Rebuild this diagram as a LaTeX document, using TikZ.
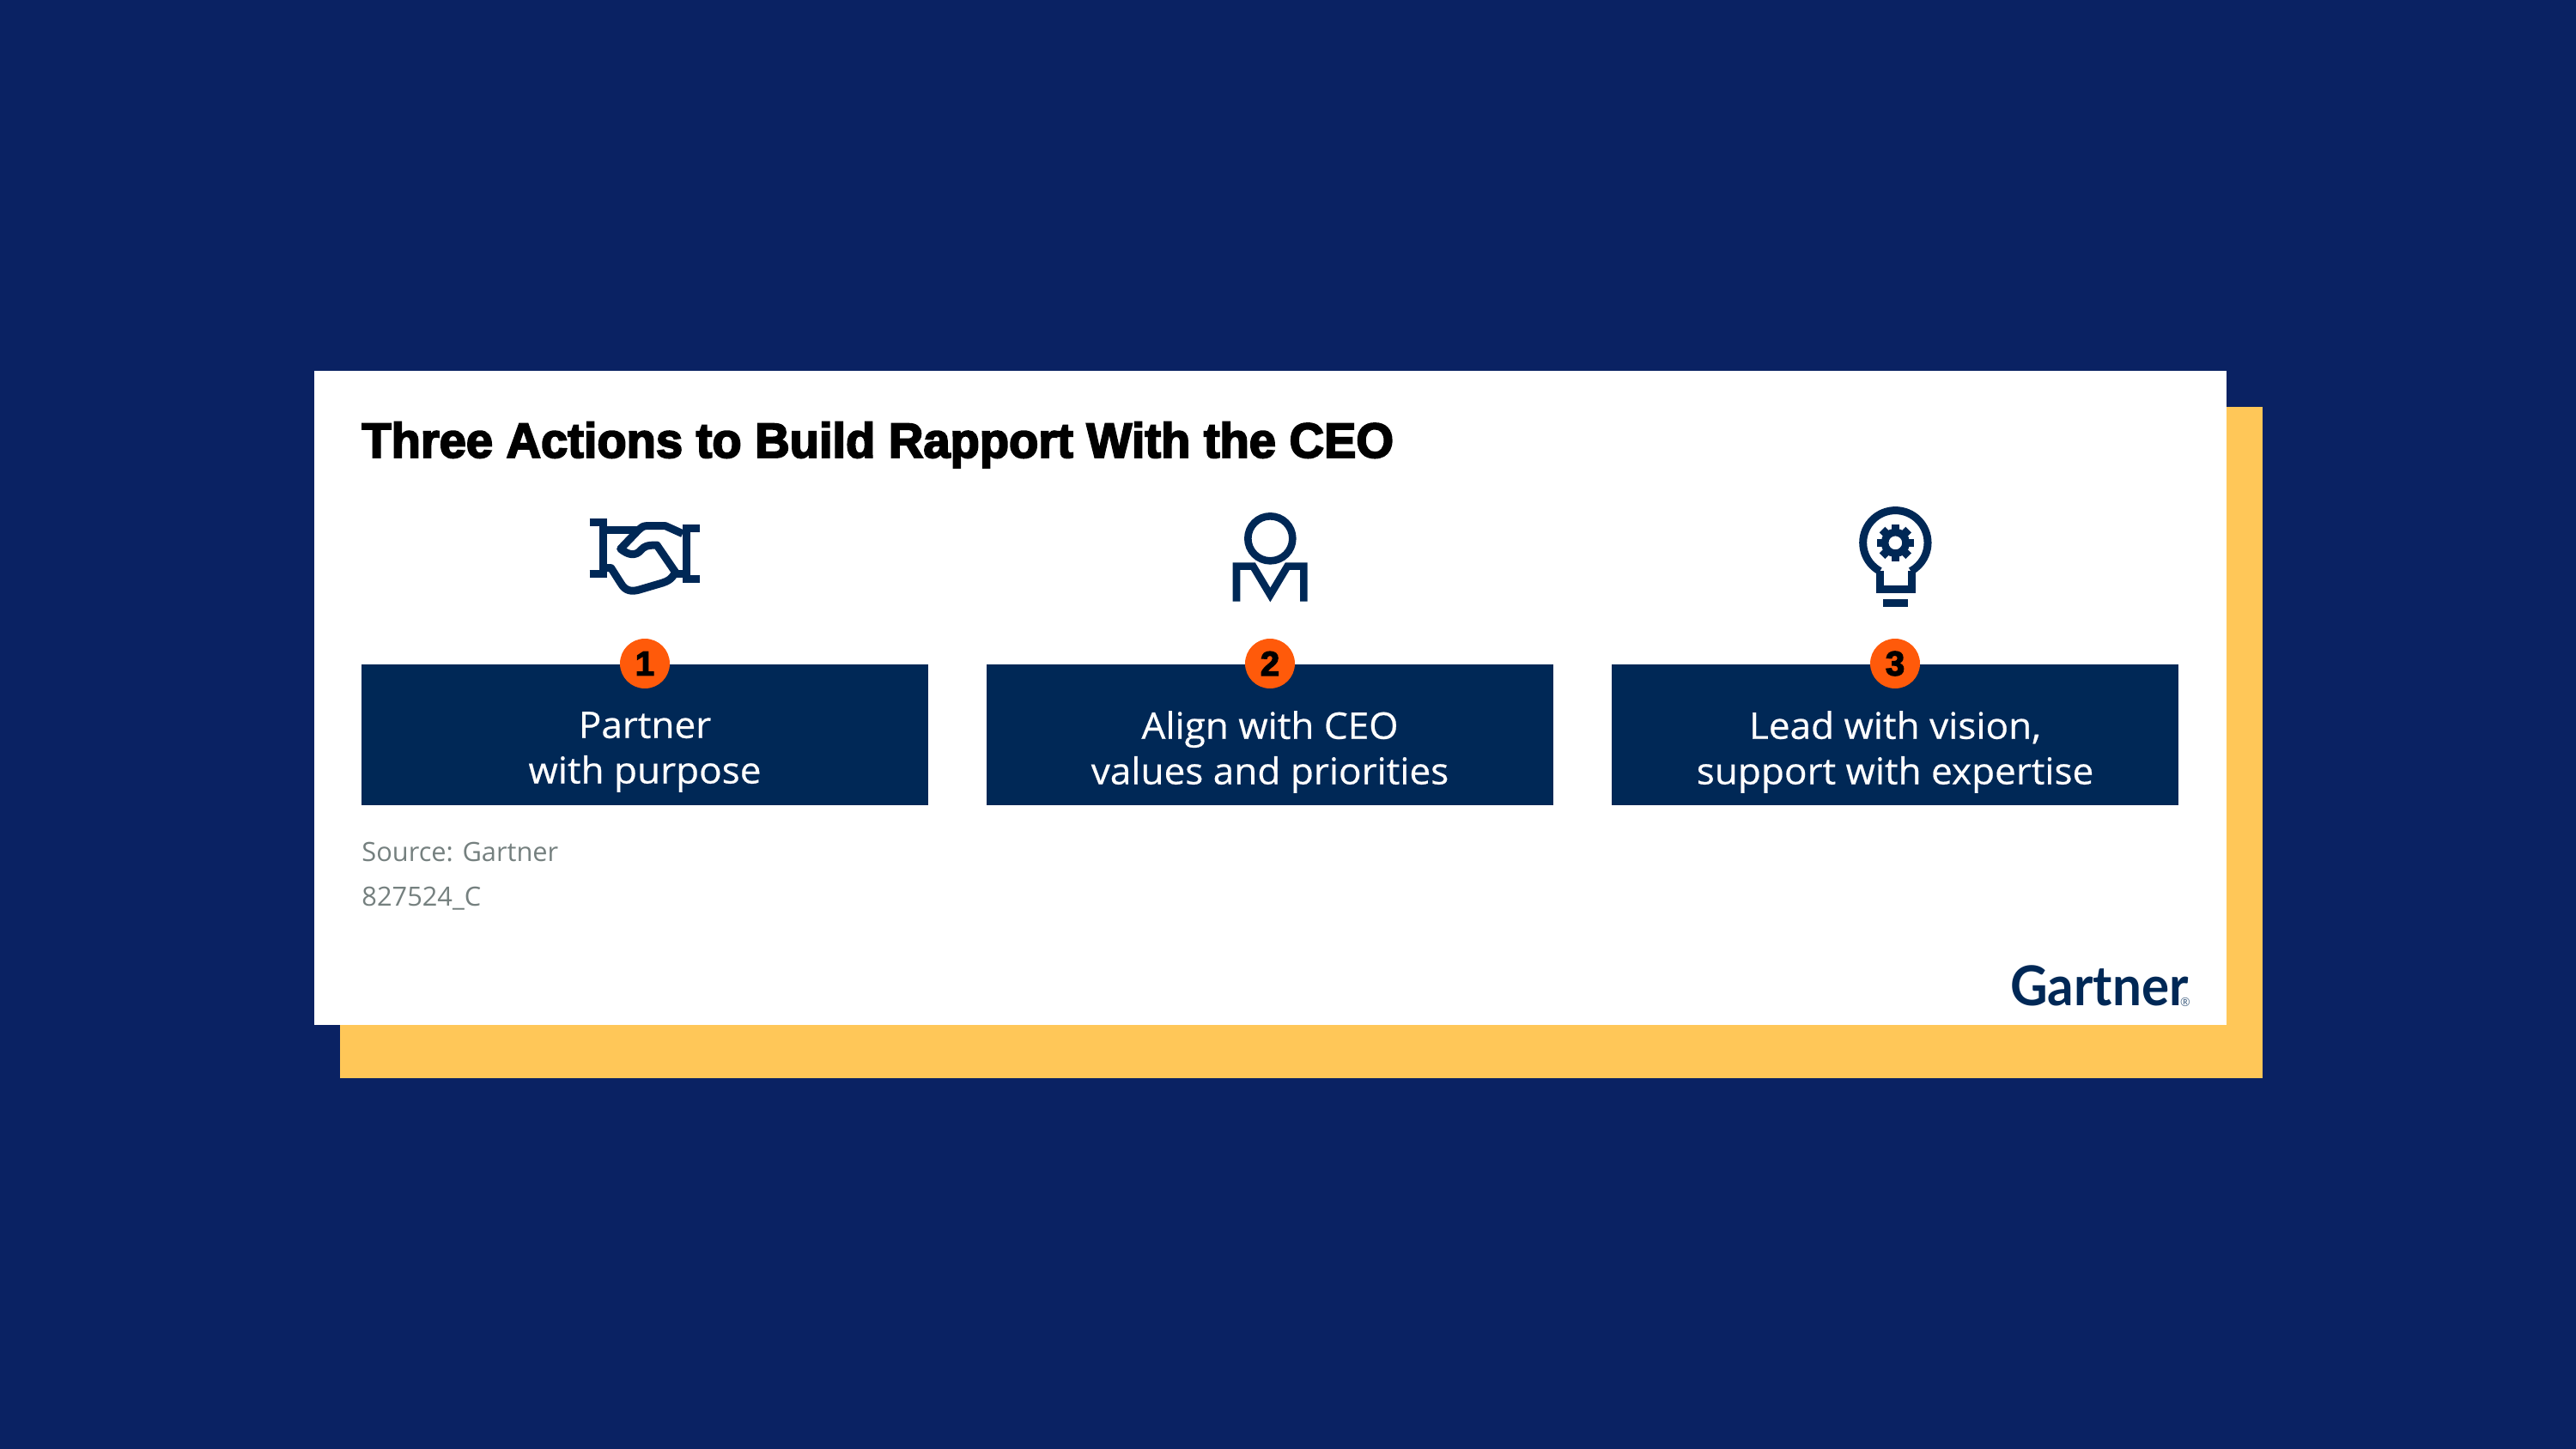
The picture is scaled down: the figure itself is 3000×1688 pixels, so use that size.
\documentclass[tikz,border=0pt]{standalone}
\usepackage{fontspec}
\setmainfont{Liberation Sans}
\newfontfamily\titlefont[FakeBold=3.4,FakeStretch=0.98]{Liberation Sans Bold}
\newfontfamily\bodyfont[FakeBold=0.5,FakeStretch=1.03]{Open Sans}
\newfontfamily\smallfont{Open Sans}
\newfontfamily\numfont[FakeBold=3.4]{Liberation Sans Bold}
\newfontfamily\logofont[FakeStretch=0.94]{Lato Bold}
\definecolor{bgblue}{HTML}{0A2263}
\definecolor{navy}{HTML}{002856}
\definecolor{gold}{HTML}{FFC758}
\definecolor{flame}{HTML}{FF5A0A}
\definecolor{greytext}{HTML}{75807F}
\tikzset{
  actionbox/.style={fill=navy,draw=none,minimum width=330pt,minimum height=82pt,inner sep=0pt,anchor=center},
  actiontext/.style={text=white,align=center,inner sep=0pt,font=\fontsize{21.4}{26.4}\bodyfont},
  badge/.style={circle,fill=flame,draw=none,minimum size=29pt,inner sep=0pt,text=black,font=\fontsize{20}{20}\numfont},
  sourcetext/.style={text=greytext,inner sep=0pt,anchor=base west,font=\fontsize{15.4}{15.4}\smallfont},
  iconline/.style={draw=navy,line width=4.5pt,line join=miter,fill=none},
}
\begin{document}
\begin{tikzpicture}[x=0.5pt,y=-0.5pt]
\useasboundingbox (0,0) rectangle (3000,1687.6);
\fill[bgblue] (-10,-10) rectangle (3010,1700);
\fill[gold] (396,474) rectangle (2634.5,1255.5);
\fill[white] (365.5,432) rectangle (2593,1194);
\node[anchor=base west,inner sep=0pt,font=\fontsize{28.6}{30}\titlefont,text=black] (title) at (421,533) {Three Actions to Build Rapport With the CEO};
% boxes
\node[actionbox] (box1) at (751,856) {};
\node[actionbox] (box2) at (1479,856) {};
\node[actionbox] (box3) at (2207,856) {};
\node[actiontext] (text1) at (751,876) {Partner\\with purpose};
\node[actiontext] (text2) at (1479,876) {Align with CEO\\values and priorities};
\node[actiontext] (text3) at (2207,876) {Lead with vision,\\support with expertise};
\node[badge] (num1) at (751,773) {1};
\node[badge] (num2) at (1479,773) {2};
\node[badge] (num3) at (2207,773) {3};
\node[sourcetext] (src) at (421,1003) {Source: Gartner};
\node[sourcetext] (code) at (421,1055) {827524\_C};
\node[anchor=base east,inner sep=0pt,text=navy,font=\fontsize{32}{32}\logofont] (logo) at (2549,1171) {Gartner};
\node[anchor=center,inner sep=0pt,text=navy!70,font=\fontsize{7}{7}\smallfont] (reg) at (2545,1167) {®};
% handshake
\begin{scope}[shift={(640,570)},x=0.5pt/3,y=-0.5pt/3]
\draw[iconline] (140,116)--(200,116) (187,116)--(187,295) (140,295)--(200,295);
\draw[iconline] (465,135)--(525,135) (478,135)--(478,313) (465,313)--(525,313);
\draw[iconline] (187,143)--(305,143);
\draw[iconline,line join=round] (465,155)--(405,128)--(338,128) .. controls (325,128) and (320,135) .. (310,143) -- (248,208) .. controls (275,230) and (300,235) .. (320,212) .. controls (330,200) and (340,195) .. (375,195) -- (440,290) .. controls (425,315) and (415,320) .. (395,327) -- (310,352) .. controls (285,358) and (265,355) .. (250,330) -- (215,275) -- (195,275);
\draw[iconline] (440,295)--(478,295);
\end{scope}
% person
\begin{scope}[shift={(1380,570)},x=0.5pt/3,y=-0.5pt/3]
\draw[iconline,line width=4.3pt] (298,172) circle (78);
\draw[iconline,line width=4.3pt] (180,392)--(180,269)--(238,269)--(298,369)--(358,269)--(415,269)--(415,392);
\end{scope}
% bulb
\begin{scope}[shift={(2100,570)},x=0.5pt/3,y=-0.5pt/3]
\draw[iconline] (268,286)--(268,348)--(378,348)--(378,286);
\draw[iconline] (268,286) arc[start angle=118.6,end angle=421.4,radius=113];
\fill[navy] (280,385) rectangle (365,412);
\draw[navy,line width=4.33pt] (322,187) circle (37);
\foreach \a in {0,45,...,315}
  \fill[navy,rotate around={\a:(322,187)}] (308,122) rectangle (336,150);
\end{scope}
\end{tikzpicture}
\end{document}
